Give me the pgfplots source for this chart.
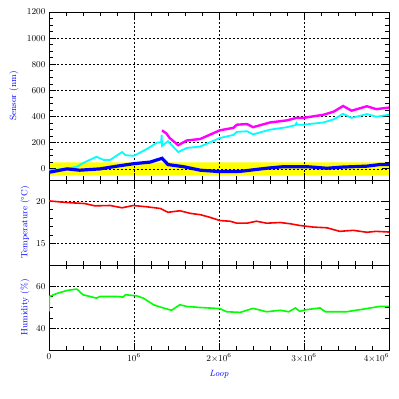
\documentclass[border=0pt]{standalone}
\usepackage{pgfplots}
\pgfplotsset{compat=1.18}
\definecolor{cBlue}{RGB}{0,0,255}
\definecolor{cCyan}{RGB}{0,255,255}
\definecolor{cMag}{RGB}{255,0,255}
\definecolor{cRed}{RGB}{255,0,0}
\definecolor{cGreen}{RGB}{0,255,0}
\definecolor{cYellow}{RGB}{255,255,0}
\begin{document}
\begin{tikzpicture}
\pgfplotsset{
  panel/.style={
    scale only axis, width=340pt,
    xmin=0, xmax=4e6,
    xtick={0,1e6,2e6,3e6,4e6}, minor x tick num=4,
    scaled ticks=false,
    /pgf/number format/1000 sep={},
    tick align=inside, xtick pos=both, ytick pos=both,
    major tick length=7pt, minor tick length=4pt,
    every tick/.style={black, line width=0.8pt},
    grid=major,
    major grid style={black, line width=0.6pt, dash pattern=on 2pt off 2pt},
    axis line style={line width=1pt},
    tick label style={font=\fontsize{9}{10}\selectfont},
    ylabel style={font=\fontsize{9}{10}\selectfont, text=cBlue, rotate=0, anchor=center},
    set layers,
  },
}
% ---------- top panel ----------
\begin{axis}[panel, at={(49pt,-12pt)}, anchor=north west, height=168pt,
  ymin=-85, ymax=1200, ytick={0,200,400,600,800,1000,1200}, minor y tick num=3,
  xticklabels={},
  ylabel={Sensor (nm)}, ylabel style={at={(axis description cs:-0.103,0.5)}}]
\addplot[on layer=axis background, fill=cYellow, draw=none] coordinates {(0,-50) (4e6,-50) (4e6,50) (0,50) (0,-50)};
\addplot[cCyan, line width=1.8pt] coordinates {
(0,-10) (0.2e6,0) (0.33e6,17) (0.4e6,45) (0.56e6,93) (0.64e6,69) (0.72e6,69) (0.86e6,129) (0.9e6,105)
(0.99e6,100) (1.03e6,110) (1.15e6,152) (1.27e6,200) (1.32e6,205) (1.325e6,260) (1.33e6,176) (1.40e6,212)
(1.52e6,129) (1.62e6,160) (1.78e6,171) (2.01e6,236) (2.17e6,260) (2.21e6,283) (2.33e6,288)
(2.40e6,264) (2.6e6,300) (2.80e6,319) (2.90e6,335) (2.91e6,350) (2.92e6,338) (2.99e6,338) (3.23e6,355)
(3.35e6,379) (3.46e6,421) (3.56e6,390) (3.74e6,419) (3.85e6,399) (4e6,414)};
\addplot[cMag, line width=2.4pt] coordinates {
(1.33e6,295) (1.38e6,271) (1.42e6,236) (1.52e6,181) (1.62e6,217) (1.78e6,229) (2.01e6,295)
(2.17e6,314) (2.21e6,338) (2.33e6,343) (2.40e6,319) (2.6e6,355) (2.80e6,371) (2.91e6,390)
(2.99e6,390) (3.23e6,414) (3.35e6,438) (3.46e6,481) (3.56e6,445) (3.74e6,479) (3.85e6,457) (4e6,469)};
\addplot[cBlue, line width=3.2pt] coordinates {
(0,-26) (0.21e6,0) (0.36e6,-10) (0.6e6,0) (0.8e6,21) (1.0e6,40) (1.19e6,52) (1.33e6,81)
(1.40e6,33) (1.58e6,17) (1.78e6,-10) (2.01e6,-21) (2.25e6,-19) (2.56e6,5) (2.76e6,17)
(3.03e6,17) (3.27e6,5) (3.46e6,14) (3.74e6,21) (3.89e6,33) (4e6,33)};
\end{axis}
% ---------- middle panel ----------
\begin{axis}[panel, at={(49pt,-180pt)}, anchor=north west, height=85pt,
  ymin=12.5, ymax=22.5, ytick={15,20}, minor y tick num=4,
  xticklabels={},
  ylabel={Temperature (°C)}, ylabel style={at={(axis description cs:-0.07,0.5)}}]
\addplot[cRed, line width=1.6pt] coordinates {
(0,20.04) (0.21e6,19.85) (0.42e6,19.73) (0.54e6,19.46) (0.72e6,19.5) (0.86e6,19.23) (0.99e6,19.5)
(1.15e6,19.35) (1.31e6,19.15) (1.40e6,18.7) (1.54e6,18.88) (1.66e6,18.58) (1.78e6,18.42)
(1.89e6,18.12) (2.01e6,17.73) (2.13e6,17.65) (2.21e6,17.42) (2.33e6,17.42) (2.44e6,17.65)
(2.56e6,17.42) (2.72e6,17.5) (2.84e6,17.35) (2.95e6,17.15) (3.11e6,16.96) (3.27e6,16.88)
(3.42e6,16.46) (3.58e6,16.58) (3.74e6,16.35) (3.85e6,16.46) (4e6,16.38)};
\end{axis}
% ---------- bottom panel ----------
\begin{axis}[panel, at={(49pt,-265pt)}, anchor=north west, height=85pt,
  ymin=30, ymax=70, ytick={40,60}, minor y tick num=3,
  xticklabels={0,$10^6$,$2{\times}10^6$,$3{\times}10^6$,\makebox[0pt][r]{$4{\times}10^6$}},
  xlabel={\itshape Loop}, xlabel style={font=\fontsize{9}{10}\selectfont, text=cBlue, at={(axis description cs:0.5,-0.2)}, anchor=north},
  ylabel={Humidity (\%)}, ylabel style={at={(axis description cs:-0.07,0.5)}}]
\addplot[cGreen, line width=1.6pt] coordinates {
(0,48.2) (0.005e6,55.2) (0.1e6,56.7) (0.21e6,58) (0.31e6,58.6) (0.33e6,58.6) (0.4e6,56) (0.56e6,54.4)
(0.6e6,55.2) (0.8e6,55.2) (0.87e6,54.9) (0.9e6,56) (1.03e6,55.5) (1.11e6,54.4) (1.23e6,51.3)
(1.31e6,50.2) (1.44e6,48.7) (1.54e6,51.3) (1.62e6,50.5) (1.78e6,50.0) (2.01e6,49.5) (2.09e6,48)
(2.25e6,47.7) (2.40e6,49.6) (2.56e6,48) (2.72e6,48.7) (2.82e6,48) (2.90e6,49.8) (2.95e6,48.2)
(3.03e6,49) (3.19e6,49.8) (3.25e6,48) (3.5e6,48) (3.66e6,49) (3.89e6,50.5) (4e6,50.5)};
\end{axis}
\pgfresetboundingbox
\path[use as bounding box] (0pt,0pt) rectangle (399pt,-399pt);
\end{tikzpicture}
\end{document}
